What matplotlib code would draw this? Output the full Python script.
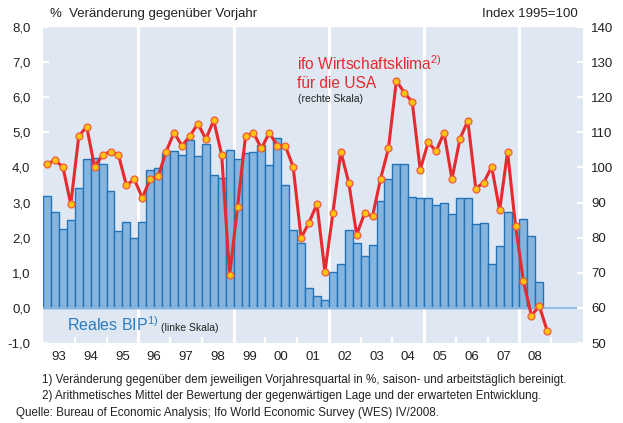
import numpy as np
import matplotlib
matplotlib.use("Agg")
import matplotlib.pyplot as plt

plt.rcParams['font.family'] = ['Liberation Sans', 'DejaVu Sans']
plt.rcParams['mathtext.fontset'] = 'custom'
plt.rcParams['mathtext.rm'] = 'Liberation Sans'
plt.rcParams['mathtext.default'] = 'regular'

# Reales BIP, Veränderung gg. Vorjahresquartal in % (1993Q1 - 2008Q3)
gdp = [
    3.19, 2.73, 2.25, 2.50,   # 1993
    3.42, 4.24, 4.27, 4.10,   # 1994
    3.34, 2.20, 2.45, 2.00,   # 1995
    2.44, 3.94, 3.97, 4.40,   # 1996
    4.48, 4.35, 4.77, 4.33,   # 1997
    4.67, 3.79, 3.70, 4.50,   # 1998
    4.24, 4.40, 4.43, 4.65,   # 1999
    4.06, 4.83, 3.51, 2.23,   # 2000
    1.85, 0.58, 0.34, 0.22,   # 2001
    1.02, 1.26, 2.21, 1.85,   # 2002
    1.47, 1.79, 3.04, 3.67,   # 2003
    4.10, 4.10, 3.16, 3.14,   # 2004
    3.14, 2.92, 2.99, 2.68,   # 2005
    3.14, 3.14, 2.38, 2.43,   # 2006
    1.24, 1.76, 2.74, 2.40,   # 2007
    2.52, 2.04, 0.74,         # 2008
]

# ifo Wirtschaftsklima USA, Index 1995=100 (1993Q1 - 2008Q4)
ifo = [
    101.0, 102.0, 100.2, 89.5,
    108.9, 111.6, 100.1, 103.6,
    104.5, 103.6, 94.9, 96.7,
    91.3, 96.7, 97.5, 104.5,
    109.9, 106.2, 108.9, 112.5,
    108.1, 113.4, 103.6, 69.3,
    88.8, 108.9, 109.9, 105.4,
    109.9, 106.2, 106.2, 100.2,
    79.9, 84.3, 89.6, 70.3,
    86.9, 104.5, 95.7, 80.8,
    87.0, 86.1, 96.7, 105.4,
    124.7, 121.3, 118.6, 99.3,
    107.2, 104.6, 109.9, 96.7,
    108.1, 113.3, 94.0, 95.7,
    100.2, 87.8, 104.5, 83.4,
    67.6, 57.8, 60.5, 53.4,
]

year_labels = ['93', '94', '95', '96', '97', '98', '99', '00',
               '01', '02', '03', '04', '05', '06', '07', '08']
left_ticks = [-1, 0, 1, 2, 3, 4, 5, 6, 7, 8]
right_ticks = [50, 60, 70, 80, 90, 100, 110, 120, 130, 140]

BG = '#dfe7f2'
BAR_FILL = '#85b5df'
BAR_EDGE = '#2273b8'
RED = '#e42b2f'
MARK = '#ffc20e'
TXT = '#222222'

W, H = 623, 423
fig = plt.figure(figsize=(W / 100, H / 100), dpi=100)


def fx(x):
    return x / W


def fy(y):
    return 1 - y / H


ax = fig.add_axes([fx(43), fy(343), fx(583) - fx(43), fy(27) - fy(343)])
ax.set_facecolor(BG)
for s in ax.spines.values():
    s.set_visible(False)

n_years = 17
ax.set_xlim(0, n_years * 4)
ax.set_ylim(-1, 8)

# white vertical separators every three years
for q in range(12, 64, 12):
    ax.axvline(q, color='white', lw=2.2, zorder=0.5)

xb = np.arange(len(gdp)) + 0.5
ax.bar(xb, gdp, width=1.0, color=BAR_FILL, edgecolor=BAR_EDGE, linewidth=1.0, zorder=2)
ax.axhline(0, color='#8dbbe3', lw=1.3, zorder=2.5)

ax.set_yticks(left_ticks)
ax.set_yticklabels([f"{v:.1f}".replace('.', ',') for v in left_ticks], fontsize=9.5, color=TXT)
ax.tick_params(axis='y', direction='in', length=4, width=1.6, color='white', pad=9)

ax.set_xticks([4 * k + 2 for k in range(len(year_labels))])
ax.set_xticklabels(year_labels, fontsize=9.5, color=TXT)
ax.set_xticks([4 * k for k in range(1, n_years)], minor=True)
ax.tick_params(axis='x', which='major', length=0, pad=6)
ax.tick_params(axis='x', which='minor', direction='in', length=4, width=1.6, color='white')

ax2 = ax.twinx()
ax2.set_ylim(50, 140)
for s in ax2.spines.values():
    s.set_visible(False)
xl = np.arange(len(ifo)) + 0.5
ax2.plot(xl, ifo, color=RED, lw=2.2, marker='o', markersize=5,
         markerfacecolor=MARK, markeredgecolor='#f05a3c', markeredgewidth=0.9, zorder=3)
ax2.set_yticks(right_ticks)
ax2.set_yticklabels([str(v) for v in right_ticks], fontsize=9.5, color=TXT)
ax2.tick_params(axis='y', direction='in', length=4, width=1.6, color='white', pad=6)

# headers
fig.text(fx(50), fy(17), '%  Veränderung gegenüber Vorjahr', fontsize=9.5, color=TXT, va='baseline')
fig.text(fx(578), fy(17), 'Index 1995=100', fontsize=9.5, color=TXT, va='baseline', ha='right')

# series labels
fig.text(fx(297), fy(70), r'ifo Wirtschaftsklima$^{2)}$', fontsize=11.2, color=RED, va='baseline')
fig.text(fx(297), fy(88), 'für die USA', fontsize=11.2, color=RED, va='baseline')
fig.text(fx(298), fy(102), '(rechte Skala)', fontsize=7.5, color=TXT, va='baseline')

fig.text(fx(67), fy(331), r'Reales BIP$^{1)}$', fontsize=11.5, color='#2a7cc0', va='baseline')
fig.text(fx(161), fy(331), '(linke Skala)', fontsize=7.5, color=TXT, va='baseline')

# footnotes
fig.text(fx(42), fy(383), '1) Veränderung gegenüber dem jeweiligen Vorjahresquartal in %, saison- und arbeitstäglich bereinigt.',
         fontsize=8.4, color=TXT, va='baseline')
fig.text(fx(42), fy(399), '2) Arithmetisches Mittel der Bewertung der gegenwärtigen Lage und der erwarteten Entwicklung.',
         fontsize=8.4, color=TXT, va='baseline')
fig.text(fx(16), fy(416), 'Quelle: Bureau of Economic Analysis; Ifo World Economic Survey (WES) IV/2008.',
         fontsize=8.4, color=TXT, va='baseline')

fig.savefig('out.png', dpi=100)
